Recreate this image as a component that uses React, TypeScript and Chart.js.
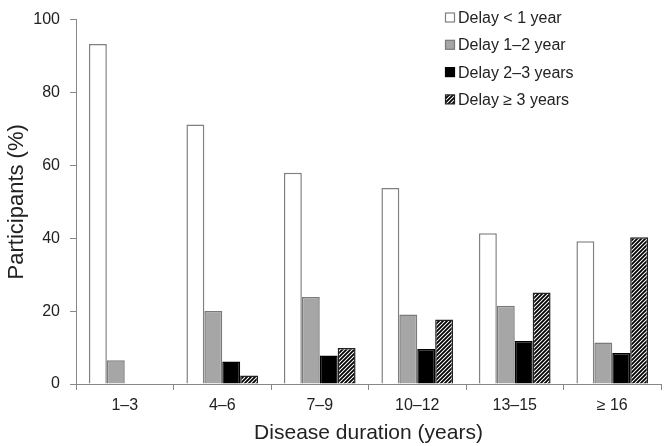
import React, { useEffect, useRef } from "react";
import { Chart, registerables } from "chart.js";

Chart.register(...registerables);

const categories = ["1–3", "4–6", "7–9", "10–12", "13–15", "≥ 16"];
const seriesLabels = ["Delay < 1 year", "Delay 1–2 year", "Delay 2–3 years", "Delay ≥ 3 years"];
const delayUnder1 = [93.3, 71.2, 58.0, 53.8, 41.4, 39.2];
const delay1to2 = [6.5, 20.0, 23.9, 19.1, 21.5, 11.4];
const delay2to3 = [0, 6.2, 7.8, 9.6, 11.8, 8.5];
const delay3plus = [0, 2.3, 9.9, 17.7, 25.1, 40.3];
const yTickValues = [0, 20, 40, 60, 80, 100];

const FONT = '"Liberation Sans", Arial, sans-serif';

function makeHatch(): CanvasPattern | string {
  const c = document.createElement("canvas");
  const s = 4;
  c.width = s;
  c.height = s;
  const g = c.getContext("2d");
  if (!g) return "#555";
  g.fillStyle = "#ffffff";
  g.fillRect(0, 0, s, s);
  g.strokeStyle = "#000";
  g.lineWidth = 1.8;
  g.beginPath();
  g.moveTo(-1, s + 1);
  g.lineTo(s + 1, -1);
  g.moveTo(-1, 1);
  g.lineTo(1, -1);
  g.moveTo(s - 1, s + 1);
  g.lineTo(s + 1, s - 1);
  g.stroke();
  const p = g.createPattern(c, "repeat");
  return p || "#555";
}

const legendPlugin = {
  id: "insideLegend",
  afterDraw(chart: any) {
    const ctx = chart.ctx as CanvasRenderingContext2D;
    ctx.save();
    ctx.font = `16px ${FONT}`;
    ctx.textBaseline = "middle";
    ctx.textAlign = "left";
    chart.data.datasets.forEach((ds: any, i: number) => {
      const y = 17.5 + i * 27.3;
      const x = 445.5;
      ctx.fillStyle = ds.backgroundColor;
      ctx.fillRect(x, y - 4.5, 9, 9);
      ctx.strokeStyle = ds.borderColor;
      ctx.lineWidth = 1.2;
      ctx.strokeRect(x, y - 4.5, 9, 9);
      ctx.fillStyle = "#222";
      ctx.fillText(ds.label, 458, y + 1);
    });
    ctx.restore();
  },
};

export default function App() {
  const ref = useRef<HTMLCanvasElement | null>(null);

  useEffect(() => {
    if (!ref.current) return;
    const hatch = makeHatch();
    const chart = new Chart(ref.current, {
      type: "bar",
      data: {
        labels: categories,
        datasets: [
          {
            label: seriesLabels[0],
            data: delayUnder1,
            backgroundColor: "#ffffff",
            borderColor: "#808080",
            borderWidth: 1.5,
          },
          {
            label: seriesLabels[1],
            data: delay1to2,
            backgroundColor: "#a6a6a6",
            borderColor: "#7a7a7a",
            borderWidth: 1.5,
          },
          {
            label: seriesLabels[2],
            data: delay2to3,
            backgroundColor: "#000000",
            borderColor: "#000000",
            borderWidth: 1.5,
          },
          {
            label: seriesLabels[3],
            data: delay3plus,
            backgroundColor: hatch as any,
            borderColor: "#222",
            borderWidth: 1.5,
          },
        ],
      },
      options: {
        responsive: false,
        animation: false,
        devicePixelRatio: 1,
        layout: { padding: { left: 0, right: 7, top: 12, bottom: 0 } },
        datasets: {
          bar: { categoryPercentage: 0.735, barPercentage: 1.0 },
        },
        plugins: {
          legend: { display: false },
          tooltip: { enabled: false },
        },
        scales: {
          x: {
            grid: {
              display: true,
              offset: true,
              drawOnChartArea: false,
              drawTicks: true,
              tickLength: 6,
              color: "#888",
              lineWidth: 1,
            },
            border: { display: true, color: "#888", width: 1 },
            ticks: {
              color: "#222",
              font: { family: FONT, size: 16 },
              padding: 6,
              maxRotation: 0,
            },
            title: {
              display: true,
              text: "Disease duration (years)",
              color: "#222",
              font: { family: FONT, size: 21 },
              padding: 0,
            },
            afterFit(scale: any) {
              scale.height = 62;
            },
          },
          y: {
            min: 0,
            max: 100,
            afterBuildTicks(scale: any) {
              scale.ticks = yTickValues.map((v) => ({ value: v }));
            },
            grid: {
              display: true,
              drawOnChartArea: false,
              drawTicks: true,
              tickLength: 6,
              color: "#888",
              lineWidth: 1,
            },
            border: { display: true, color: "#888", width: 1 },
            ticks: {
              color: "#222",
              font: { family: FONT, size: 16 },
              padding: 10,
            },
            title: {
              display: true,
              text: "Participants (%)",
              color: "#222",
              font: { family: FONT, size: 22 },
              padding: { top: 4, bottom: 0 },
            },
            afterFit(scale: any) {
              scale.width = 76;
            },
          },
        },
      },
      plugins: [legendPlugin],
    });
    return () => chart.destroy();
  }, []);

  return (
    <div style={{ position: "absolute", left: 0, top: 0, width: 668, height: 446, background: "#fff" }}>
      <canvas ref={ref} width={668} height={446} style={{ display: "block" }} />
    </div>
  );
}
